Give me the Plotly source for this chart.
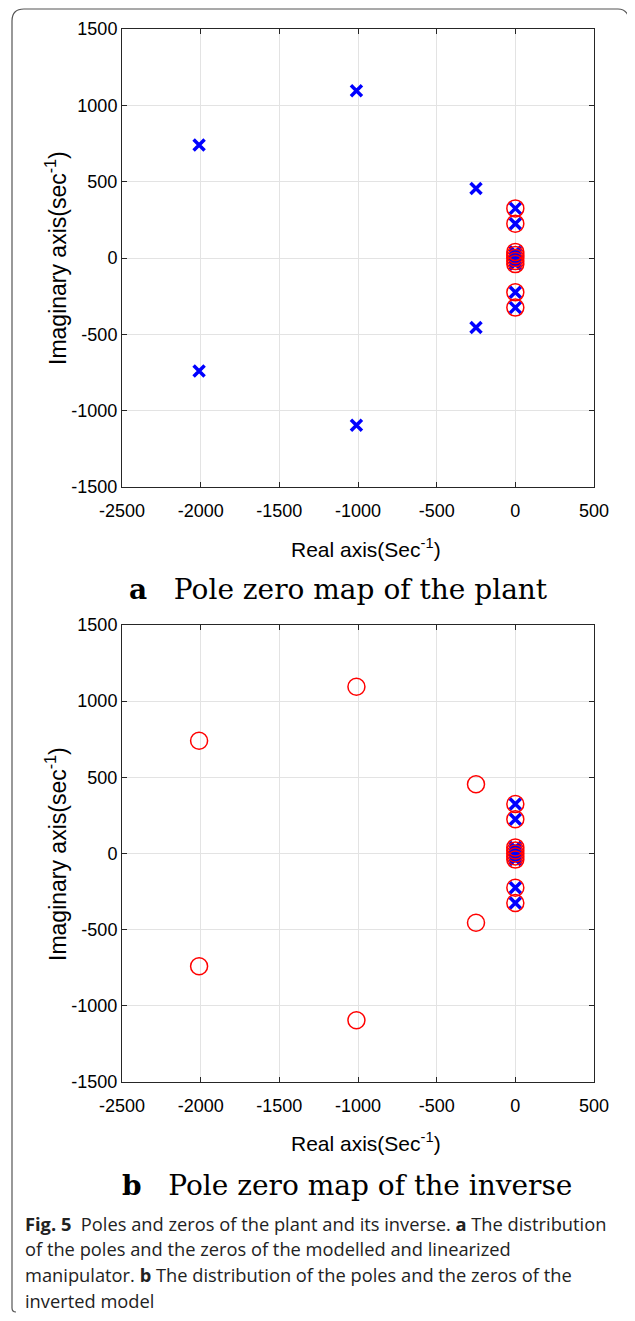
import plotly.graph_objects as go

# The page body has an 8px margin, so the figure is drawn 8px in from the top-left.
OFF = 8
W, H = 635 - 2 * OFF, 1321 - 2 * OFF

# Plant poles (x markers) and zeros (o markers)
plant_pole_re = [-2010, -2010, -1010, -1010, -250, -250, 0, 0, 0, 0, 0, 0, 0, 0, 0]
plant_pole_im = [740, -740, 1095, -1095, 455, -455, 325, 225, -225, -325, 40, 20, 0, -20, -40]
plant_zero_re = [0, 0, 0, 0, 0, 0, 0, 0, 0]
plant_zero_im = [325, 225, -225, -325, 40, 20, 0, -20, -40]

# Inverse: poles and zeros
inv_pole_re = [0, 0, 0, 0, 0, 0, 0, 0, 0]
inv_pole_im = [325, 225, -225, -325, 40, 20, 0, -20, -40]
inv_zero_re = [-2010, -2010, -1010, -1010, -250, -250, 0, 0, 0, 0, 0, 0, 0, 0, 0]
inv_zero_im = [740, -740, 1095, -1095, 455, -455, 325, 225, -225, -325, 40, 20, 0, -20, -40]

x_ticks = [-2500, -2000, -1500, -1000, -500, 0, 500]
x_tick_text = ["-2500", "-2000", "-1500", "-1000", "-500", "0", "500"]
y_ticks = [-1500, -1000, -500, 0, 500, 1000, 1500]
y_tick_text = ["-1500", "-1000", "-500", "0", "500", "1000", "1500"]

def px(x):
    return (x - OFF) / W

def py(y):
    return 1 - (y - OFF) / H

fig = go.Figure()

def add_panel(xa, ya, pre, pim, zre, zim):
    fig.add_trace(go.Scatter(x=pre, y=pim, mode="markers", xaxis=xa, yaxis=ya,
                             marker=dict(symbol="x-thin", size=11, color="#0000ff",
                                         line=dict(width=3.5, color="#0000ff")),
                             showlegend=False, hoverinfo="skip"))
    fig.add_trace(go.Scatter(x=zre, y=zim, mode="markers", xaxis=xa, yaxis=ya,
                             marker=dict(symbol="circle-open", size=17, color="#ff0000",
                                         line=dict(width=1.5, color="#ff0000")),
                             showlegend=False, hoverinfo="skip"))

add_panel("x", "y", plant_pole_re, plant_pole_im, plant_zero_re, plant_zero_im)
add_panel("x2", "y2", inv_pole_re, inv_pole_im, inv_zero_re, inv_zero_im)

axis_common = dict(showgrid=True, gridcolor="#e3e3e3", gridwidth=1, zeroline=False,
                   showline=True, linecolor="#262626", linewidth=1, mirror="ticks",
                   ticks="inside", ticklen=5, tickcolor="#262626", automargin=False,
                   tickmode="array",
                   tickfont=dict(family="Liberation Sans", size=18, color="#000"))
xaxis_extra = dict(ticklabelstandoff=7)

xdom = [px(122), px(594)]
fig.update_layout(
    template="none",
    width=W, height=H, margin=dict(l=0, r=0, t=0, b=0, pad=0),
    paper_bgcolor="white", plot_bgcolor="white",
    xaxis=dict(domain=xdom, range=[-2500, 500], tickvals=x_ticks, ticktext=x_tick_text, anchor="y",
               **xaxis_extra, **axis_common),
    yaxis=dict(domain=[py(487), py(29)], range=[-1500, 1500], tickvals=y_ticks, ticktext=y_tick_text, anchor="x", **axis_common),
    xaxis2=dict(domain=xdom, range=[-2500, 500], tickvals=x_ticks, ticktext=x_tick_text, anchor="y2",
                **xaxis_extra, **axis_common),
    yaxis2=dict(domain=[py(1082), py(625)], range=[-1500, 1500], tickvals=y_ticks, ticktext=y_tick_text, anchor="x2", **axis_common),
)

ann = []
for (xt_y, yt_cy) in [(548, 258), (1142, 854)]:
    ann.append(dict(x=px(366), y=py(xt_y), xref="paper", yref="paper", showarrow=False,
                    text="Real axis(Sec<sup>-1</sup>)",
                    font=dict(family="Liberation Sans", size=21, color="#000"),
                    xanchor="center", yanchor="middle"))
    ann.append(dict(x=px(56), y=py(yt_cy), xref="paper", yref="paper", showarrow=False,
                    text="Imaginary axis(sec<sup>-1</sup>)",
                    font=dict(family="Liberation Sans", size=23, color="#000"), textangle=-90,
                    xanchor="center", yanchor="middle"))

serif = dict(family="DejaVu Serif", size=28, color="#000")
ann.append(dict(x=px(338), y=py(589), xref="paper", yref="paper", showarrow=False,
                text="<b>a</b>&nbsp;&nbsp;&nbsp;Pole zero map of the plant", font=serif,
                xanchor="center", yanchor="middle"))
ann.append(dict(x=px(347), y=py(1185), xref="paper", yref="paper", showarrow=False,
                text="<b>b</b>&nbsp;&nbsp;&nbsp;Pole zero map of the inverse", font=serif,
                xanchor="center", yanchor="middle"))

cap_font = dict(family="Open Sans", size=18.3, color="#222")
cap_lines = [
    "<b>Fig. 5</b>  Poles and zeros of the plant and its inverse. <b>a</b> The distribution",
    "of the poles and the zeros of the modelled and linearized",
    "manipulator. <b>b</b> The distribution of the poles and the zeros of the",
    "inverted model",
]
for i, line in enumerate(cap_lines):
    ann.append(dict(x=px(23), y=py(1223 + i * 25.7), xref="paper", yref="paper", showarrow=False,
                    text=line, font=cap_font, xanchor="left", yanchor="middle"))

fig.update_layout(annotations=ann)

# Rounded frame (top edge, left edge, top-right corner)
x0, y0, x1, y1, r = 12, 9, 630, 1312, 12
path = (f"M {px(x1)},{py(y0 + r + 6)} Q {px(x1)},{py(y0)} {px(x1 - r)},{py(y0)} "
        f"L {px(x0 + r)},{py(y0)} Q {px(x0)},{py(y0)} {px(x0)},{py(y0 + r)} "
        f"L {px(x0)},{py(y1 - 4)} Q {px(x0)},{py(y1)} {px(x0 + 4)},{py(y1)}")
fig.add_shape(type="path", path=path, xref="paper", yref="paper",
              line=dict(color="#555", width=1.2))

fig.write_html("out.html")
